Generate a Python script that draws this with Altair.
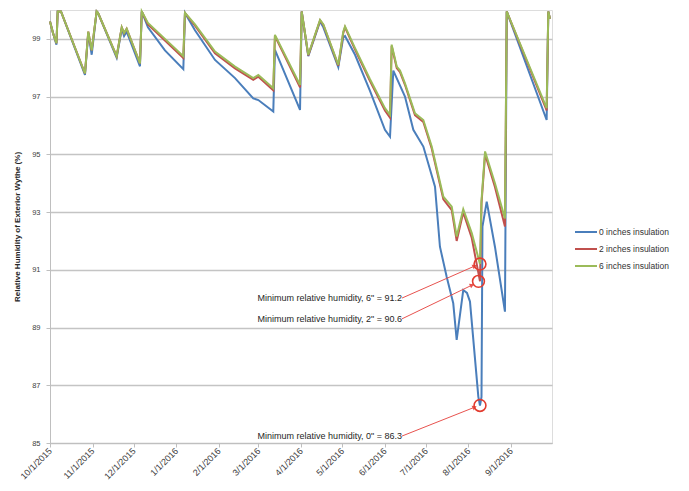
import altair as alt
import pandas as pd

series_names = ["0 inches insulation", "2 inches insulation", "6 inches insulation"]
series_colors = ["#4A7EBB", "#C0504D", "#9BBB59"]
start_date = "2015-10-01"

# days since 10/1/2015
g_days = [0, 2.2, 4.7, 5.6, 8.0, 25.5, 27.9, 30.4, 34.0, 35.0, 48.6, 52.3, 54.0, 55.9, 65.6, 66.9,
          71.4, 83.8, 97.2, 98.4, 105.7, 120.3, 134.9, 148.2, 151.9, 162.8, 164.0, 182.3, 183.5,
          188.3, 196.9, 199.3, 210.2, 213.8, 215.1, 222.4, 233.3, 244.2, 247.9, 249.1, 252.8,
          255.2, 258.8, 266.1, 272.2, 278.3, 286.8, 292.9, 296.5, 301.3, 307.5, 313.5, 314.6,
          317.2, 324.4, 331.7, 333.0, 362.1, 363.3, 364.5]
g_vals = [99.6, 99.2, 98.85, 99.95, 99.95, 97.8, 99.25, 98.6, 99.95, 99.9, 98.4, 99.4, 99.2, 99.35,
          98.15, 99.95, 99.55, 99.0, 98.4, 99.9, 99.5, 98.56, 98.04, 97.64, 97.75, 97.29, 99.14,
          97.4, 99.95, 98.45, 99.66, 99.5, 98.1, 99.25, 99.43, 98.68, 97.6, 96.6, 96.37, 98.8,
          98.04, 97.9, 97.46, 96.42, 96.19, 95.27, 93.53, 93.19, 92.15, 93.1, 92.27, 91.2, 93.4,
          95.1, 94.0, 92.78, 99.95, 96.6, 99.95, 99.7]
r_vals = [99.6, 99.2, 98.85, 99.95, 99.95, 97.8, 99.25, 98.6, 99.95, 99.9, 98.4, 99.4, 99.2, 99.35,
          98.15, 99.95, 99.5, 98.94, 98.34, 99.9, 99.46, 98.5, 97.98, 97.58, 97.69, 97.22, 99.1,
          97.32, 99.95, 98.43, 99.64, 99.48, 98.07, 99.2, 99.4, 98.63, 97.54, 96.52, 96.27, 98.75,
          97.99, 97.85, 97.41, 96.36, 96.12, 95.2, 93.44, 93.07, 92.0, 92.99, 92.1, 90.6, 93.3,
          95.0, 93.87, 92.5, 99.95, 96.52, 99.95, 99.7]
b_days = [0, 2.2, 4.7, 5.6, 8.0, 25.5, 27.9, 30.4, 34.0, 35.0, 48.6, 52.3, 54.0, 55.9, 65.6, 66.9,
          71.4, 83.8, 97.2, 98.4, 105.7, 120.3, 134.9, 148.2, 151.9, 162.8, 164.0, 182.3, 183.5,
          188.3, 196.9, 199.3, 210.2, 213.8, 215.1, 222.4, 233.3, 244.2, 247.9, 250.3, 258.8,
          264.9, 272.2, 280.7, 284.3, 289.2, 294.0, 296.5, 301.3, 304.0, 306.2, 312.3, 313.5,
          314.6, 315.3, 318.4, 324.4, 331.7, 333.0, 362.1, 363.3, 364.5]
b_vals = [99.6, 99.2, 98.8, 99.95, 99.95, 97.75, 99.2, 98.45, 99.95, 99.9, 98.35, 99.35, 99.1, 99.25,
          98.05, 99.95, 99.4, 98.6, 97.95, 99.9, 99.3, 98.27, 97.64, 96.94, 96.88, 96.48, 98.62,
          96.54, 99.95, 98.4, 99.6, 99.4, 98.02, 99.05, 99.1, 98.45, 97.2, 95.85, 95.61, 97.9,
          97.0, 95.85, 95.27, 93.88, 91.8, 90.76, 89.84, 88.57, 90.3, 90.2, 89.9, 86.6, 86.3,
          86.6, 92.5, 93.36, 91.8, 89.55, 99.95, 96.19, 99.95, 99.7]

ann_text = ['Minimum relative humidity, 6" = 91.2',
            'Minimum relative humidity, 2" = 90.6',
            'Minimum relative humidity, 0" = 86.3']
ann_min_day = [313.5, 312.4, 313.5]
ann_min_val = [91.2, 90.6, 86.3]
ann_text_day = [256.6, 256.6, 256.6]
ann_text_val = [90.02, 89.3, 85.24]
ann_arrow_day = [309.6, 307.7, 309.6]
ann_arrow_val = [91.13, 90.47, 86.24]

base = pd.Timestamp(start_date)


def to_dates(days):
    return [(base + pd.to_timedelta(d, unit="D")).strftime("%Y-%m-%dT%H:%M:%S") for d in days]


def line_df(days, vals, name):
    return pd.DataFrame({"date": to_dates(days), "rh": vals, "series": name})


df_b = line_df(b_days, b_vals, series_names[0])
df_r = line_df(g_days, r_vals, series_names[1])
df_g = line_df(g_days, g_vals, series_names[2])

ann = pd.DataFrame({
    "text": ann_text,
    "tdate": to_dates(ann_text_day), "tval": ann_text_val,
    "adate": to_dates(ann_arrow_day), "aval": ann_arrow_val,
    "mdate": to_dates(ann_min_day), "mval": ann_min_val,
})

FONT = "Liberation Sans"
month_ticks = [alt.DateTime(year=2015 + (9 + i) // 12, month=(9 + i) % 12 + 1, date=1) for i in range(12)]

x_enc = alt.X("date:T",
              scale=alt.Scale(domain=[alt.DateTime(year=2015, month=10, date=1),
                                      alt.DateTime(year=2016, month=10, date=1)]),
              axis=alt.Axis(values=month_ticks, format="%-m/%-d/%Y", labelAngle=-45,
                            labelAlign="right", labelBaseline="middle", labelPadding=2,
                            labelFontSize=9, labelColor="#404040", labelFont=FONT,
                            tickColor="#bfbfbf", domainColor="#bfbfbf", tickSize=4,
                            grid=False, title=None, labelOverlap=False))
y_enc = alt.Y("rh:Q",
              scale=alt.Scale(domain=[85, 100], nice=False, zero=False),
              axis=alt.Axis(values=list(range(85, 100, 2)), title="Relative Humidity of Exterior Wythe (%)",
                            titleFontSize=8, titleFontWeight="bold", titleFont=FONT, titleColor="#262626",
                            titlePadding=10, labelFontSize=7.5, labelColor="#404040", labelFont=FONT,
                            labelPadding=6, tickSize=4, tickColor="#bfbfbf", domainColor="#bfbfbf",
                            grid=True, gridColor="#c4c4c4", gridWidth=1.5))
color_enc = alt.Color("series:N",
                      scale=alt.Scale(domain=series_names, range=series_colors),
                      legend=alt.Legend(orient="none", legendX=524, legendY=210, title=None,
                                        symbolType="stroke", symbolSize=484, symbolStrokeWidth=2,
                                        labelFontSize=8.5, labelFont=FONT, labelColor="#333333",
                                        rowPadding=0, padding=0, labelOffset=1))


def line_layer(df):
    return alt.Chart(df).mark_line(strokeWidth=2).encode(x=x_enc, y=y_enc, color=color_enc)


texts = alt.Chart(ann).mark_text(align="right", baseline="middle", fontSize=9, font=FONT,
                                 color="#262626").encode(
    x=alt.X("tdate:T"), y=alt.Y("tval:Q"), text="text:N")
arrows = alt.Chart(ann).mark_rule(color="#E8534F", strokeWidth=1).encode(
    x=alt.X("tdate:T"), y=alt.Y("tval:Q"), x2="adate:T", y2="aval:Q")
heads = alt.Chart(ann).mark_point(shape="triangle-right", filled=True, size=26, angle=335,
                                  color="#E8534F", opacity=1).encode(
    x=alt.X("adate:T"), y=alt.Y("aval:Q"))
circles = alt.Chart(ann).mark_point(shape="circle", filled=False, size=140, color="#E23B2E",
                                    strokeWidth=1.6, opacity=1).encode(
    x=alt.X("mdate:T"), y=alt.Y("mval:Q"))

chart = alt.layer(line_layer(df_b), line_layer(df_r), line_layer(df_g),
                  arrows, heads, circles, texts).properties(
    width=502, height=433,
    autosize=alt.AutoSizeParams(type="none"),
    padding={"left": 42, "top": 2, "right": 120, "bottom": 37},
).configure_view(stroke=None).configure(background="white")

chart.save("out.html", embed_options={"renderer": "svg", "actions": False})
